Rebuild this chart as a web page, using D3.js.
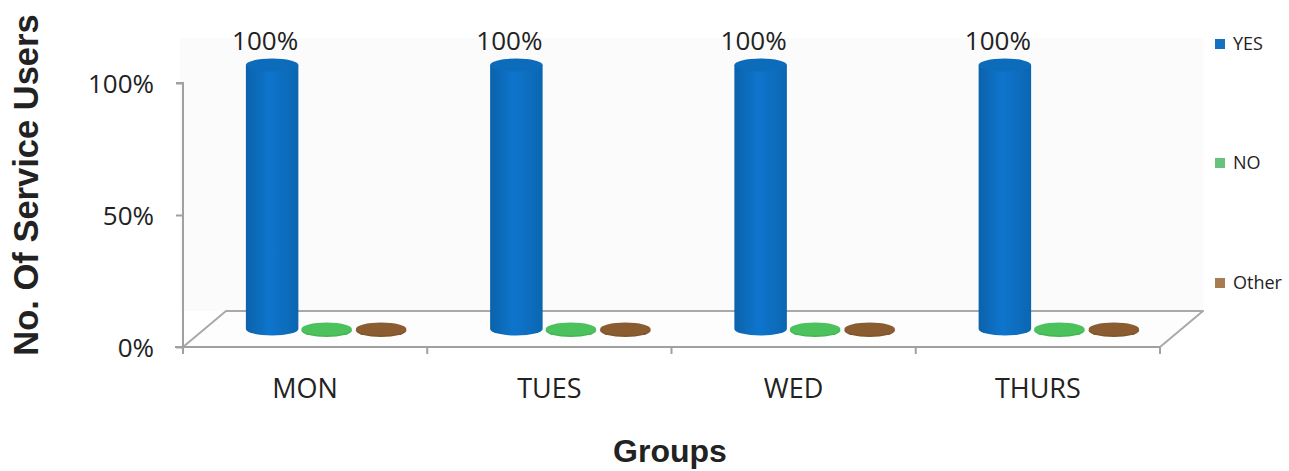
<!DOCTYPE html>
<html>
<head>
<meta charset="utf-8">
<script src="https://cdn.jsdelivr.net/npm/d3@7"></script>
<style>
  html, body { margin: 0; padding: 0; background: #fff; }
  svg { display: block; }
</style>
</head>
<body>
<svg id="chart" width="1289" height="471"></svg>
<script>
// Attendance answers per weekday group (percent of service users)
const categories = ["MON", "TUES", "WED", "THURS"];
const seriesNames = ["YES", "NO", "Other"];
const yesValues = [100, 100, 100, 100];
const noValues = [0, 0, 0, 0];
const otherValues = [0, 0, 0, 0];
const yTicks = [0, 50, 100];
const valueLabels = ["100%", "100%", "100%", "100%"];

const seriesValues = [yesValues, noValues, otherValues];
const colors = { YES: "#0d6fc2", NO: "#4cc25c", Other: "#8a5c30" };
const legendColors = { YES: "#1472c0", NO: "#67c27b", Other: "#a67c52" };
const bodyFont = "'Open Sans', 'Noto Sans', sans-serif";
const titleFont = "'Liberation Sans', Arial, sans-serif";

const svg = d3.select("#chart");
const left = 183, right = 1160, floorY = 347, topY = 83;
const depthX = 43, depthY = -36;

const x = d3.scaleBand().domain(categories).range([left, right]);
const inner = d3.scaleBand().domain(seriesNames)
  .range([x.bandwidth() / 2 - 81.75, x.bandwidth() / 2 + 81.75]);
const y = d3.scaleLinear().domain([0, 100]).range([floorY, topY]);

// Back wall
svg.append("rect")
  .attr("x", 180).attr("y", 38)
  .attr("width", right + depthX - 180).attr("height", floorY + depthY - 38)
  .attr("fill", "#fbfbfb");

// Floor
const floorPts = [
  [left, floorY], [right, floorY],
  [right + depthX, floorY + depthY], [left + depthX, floorY + depthY]
];
svg.append("polygon")
  .attr("points", floorPts.map(p => p.join(",")).join(" "))
  .attr("fill", "#fdfdfd")
  .attr("stroke", "#a9a9a9").attr("stroke-width", 2)
  .attr("stroke-linejoin", "round");

// Y axis
const yAxis = d3.axisLeft(y).tickValues(yTicks).tickFormat(d => d + "%").tickSize(7).tickPadding(22);
const gy = svg.append("g").attr("transform", `translate(${left},0)`).call(yAxis);
gy.select(".domain").attr("stroke", "#a0a0a0").attr("stroke-width", 2)
  .attr("d", `M-7,${y(100)}H0V${floorY}`);
gy.selectAll(".tick line").attr("stroke", "#a0a0a0").attr("stroke-width", 2);
gy.selectAll(".tick text")
  .attr("font-family", bodyFont)
  .attr("font-size", 26).attr("fill", "#222").attr("dy", "0.38em");

// X axis
const xAxis = d3.axisBottom(x).tickSize(0).tickPadding(28);
const gx = svg.append("g").attr("transform", `translate(0,${floorY})`).call(xAxis);
gx.select(".domain").attr("stroke", "#a0a0a0").attr("stroke-width", 2)
  .attr("d", `M${left - 8},0H${right}`);
gx.selectAll(".tick text")
  .attr("font-family", bodyFont)
  .attr("font-size", 27).attr("fill", "#222")
  .attr("y", 51).attr("dy", 0);
// Category boundary ticks
const bounds = categories.map(c => x(c)).concat([right]);
svg.append("g").selectAll("line").data(bounds).join("line")
  .attr("x1", d => d).attr("x2", d => d)
  .attr("y1", floorY).attr("y2", floorY + 7)
  .attr("stroke", "#a0a0a0").attr("stroke-width", 2);

// Gradients for cylinders
const defs = svg.append("defs");
seriesNames.forEach(s => {
  const base = d3.color(colors[s]);
  const g = defs.append("linearGradient").attr("id", "grad-" + s)
    .attr("x1", "0%").attr("x2", "100%").attr("y1", "0%").attr("y2", "0%");
  g.append("stop").attr("offset", "0%").attr("stop-color", base.darker(0.35));
  g.append("stop").attr("offset", "45%").attr("stop-color", base.brighter(0.15));
  g.append("stop").attr("offset", "100%").attr("stop-color", base.darker(0.25));
});

// Cylinders (drawn at mid depth)
const midX = depthX / 2, midY = depthY / 2;
const ry = 6.5;
const bars = [];
categories.forEach((c, ci) => {
  seriesNames.forEach((s, si) => {
    bars.push({ cat: c, series: s, value: seriesValues[si][ci], ci });
  });
});

const gBars = svg.append("g");
bars.forEach(b => {
  const cx = x(b.cat) + inner(b.series) + inner.bandwidth() / 2 + midX;
  const rx = inner.bandwidth() / 2 - 1;
  const yBottom = y(0) + midY;
  const yTop = y(b.value) + midY;
  const g = gBars.append("g");
  if (b.value > 0) {
    g.append("path")
      .attr("d", `M${cx - rx},${yTop} L${cx - rx},${yBottom} A${rx},${ry} 0 0 0 ${cx + rx},${yBottom} L${cx + rx},${yTop} Z`)
      .attr("fill", `url(#grad-${b.series})`);
    g.append("ellipse")
      .attr("cx", cx).attr("cy", yTop).attr("rx", rx).attr("ry", ry)
      .attr("fill", d3.color(colors[b.series]).darker(0.1));
  } else {
    g.append("ellipse")
      .attr("cx", cx).attr("cy", yBottom + 1.5).attr("rx", rx - 1).attr("ry", ry)
      .attr("fill", d3.color(colors[b.series]).darker(0.2));
    g.append("ellipse")
      .attr("cx", cx).attr("cy", yBottom).attr("rx", rx - 1).attr("ry", ry)
      .attr("fill", colors[b.series]);
  }
});

// Value labels above the YES cylinders
svg.append("g").selectAll("text").data(categories).join("text")
  .attr("x", (c, i) => x(c) + inner("YES") + inner.bandwidth() / 2 + midX - 7)
  .attr("y", (c, i) => y(yesValues[i]) + midY - 15)
  .attr("text-anchor", "middle")
  .attr("font-family", bodyFont)
  .attr("font-size", 26).attr("fill", "#222")
  .text((c, i) => valueLabels[i]);

// Legend
const legendY = { YES: 44, NO: 163, Other: 283 };
const lg = svg.append("g");
seriesNames.forEach(s => {
  lg.append("rect").attr("x", 1215).attr("y", legendY[s] - 5)
    .attr("width", 10).attr("height", 10).attr("fill", legendColors[s]);
  lg.append("text").attr("x", 1233).attr("y", legendY[s]).attr("dy", "0.36em")
    .attr("font-family", bodyFont)
    .attr("font-size", 18).attr("fill", "#222").text(s);
});

// Axis titles
svg.append("text")
  .attr("transform", "translate(38,185) rotate(-90)")
  .attr("text-anchor", "middle")
  .attr("font-family", titleFont)
  .attr("font-weight", "bold").attr("font-size", 34.5).attr("fill", "#222")
  .text("No. Of Service Users");
svg.append("text")
  .attr("x", 670).attr("y", 462)
  .attr("text-anchor", "middle")
  .attr("font-family", titleFont)
  .attr("font-weight", "bold").attr("font-size", 32).attr("fill", "#222")
  .text("Groups");
</script>
</body>
</html>
